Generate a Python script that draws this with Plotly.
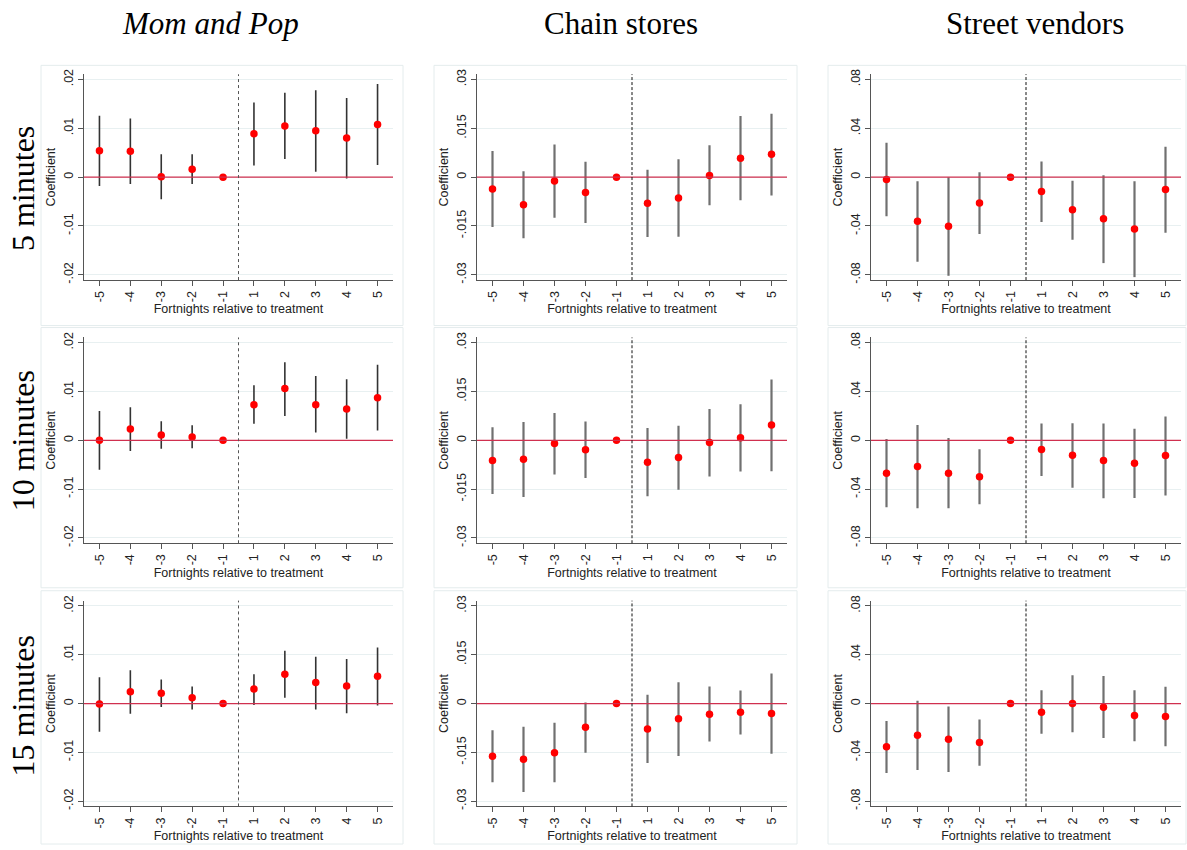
import plotly.graph_objects as go

# ---------------- data ----------------
periods = ["-5", "-4", "-3", "-2", "-1", "1", "2", "3", "4", "5"]
col_titles = ["Mom and Pop", "Chain stores", "Street vendors"]
row_titles = ["5 minutes", "10 minutes", "15 minutes"]
x_title = "Fortnights relative to treatment"
y_title = "Coefficient"

mp_ticks = [-0.02, -0.01, 0, 0.01, 0.02]
mp_ticktext = ["-.02", "-.01", "0", ".01", ".02"]
ch_ticks = [-0.03, -0.015, 0, 0.015, 0.03]
ch_ticktext = ["-.03", "-.015", "0", ".015", ".03"]
sv_ticks = [-0.08, -0.04, 0, 0.04, 0.08]
sv_ticktext = ["-.08", "-.04", "0", ".04", ".08"]

# 5 minutes
mp5_est = [0.0054, 0.0053, 0.0001, 0.0016, 0.0, 0.0089, 0.0105, 0.0095, 0.0080, 0.0108]
mp5_lo = [-0.0018, -0.0014, -0.0045, -0.0014, 0.0, 0.0024, 0.0037, 0.0011, -0.0003, 0.0025]
mp5_hi = [0.0126, 0.0120, 0.0047, 0.0047, 0.0, 0.0153, 0.0173, 0.0178, 0.0162, 0.0191]

ch5_est = [-0.0036, -0.0085, -0.0012, -0.0047, 0.0, -0.0080, -0.0064, 0.0005, 0.0058, 0.0070]
ch5_lo = [-0.0153, -0.0188, -0.0125, -0.0141, 0.0, -0.0184, -0.0183, -0.0086, -0.0071, -0.0056]
ch5_hi = [0.0080, 0.0018, 0.0100, 0.0047, 0.0, 0.0023, 0.0055, 0.0098, 0.0188, 0.0195]

sv5_est = [-0.0019, -0.0362, -0.0403, -0.0211, 0.0, -0.0118, -0.0268, -0.0340, -0.0425, -0.0101]
sv5_lo = [-0.0321, -0.0693, -0.0808, -0.0466, 0.0, -0.0367, -0.0512, -0.0704, -0.0819, -0.0455]
sv5_hi = [0.0282, -0.0033, 0.0000, 0.0041, 0.0, 0.0129, -0.0030, 0.0016, -0.0033, 0.0249]

# 10 minutes
mp10_est = [0.0000, 0.0023, 0.0011, 0.0007, 0.0, 0.0073, 0.0106, 0.0073, 0.0064, 0.0087]
mp10_lo = [-0.0060, -0.0022, -0.0017, -0.0016, 0.0, 0.0034, 0.0050, 0.0016, 0.0003, 0.0020]
mp10_hi = [0.0060, 0.0068, 0.0039, 0.0031, 0.0, 0.0113, 0.0160, 0.0132, 0.0125, 0.0155]

ch10_est = [-0.0062, -0.0058, -0.0010, -0.0029, 0.0, -0.0067, -0.0053, -0.0007, 0.0008, 0.0047]
ch10_lo = [-0.0165, -0.0174, -0.0105, -0.0116, 0.0, -0.0172, -0.0152, -0.0111, -0.0096, -0.0095]
ch10_hi = [0.0040, 0.0056, 0.0084, 0.0058, 0.0, 0.0038, 0.0045, 0.0096, 0.0111, 0.0187]

sv10_est = [-0.0269, -0.0215, -0.0269, -0.0299, 0.0, -0.0076, -0.0122, -0.0166, -0.0187, -0.0125]
sv10_lo = [-0.0549, -0.0557, -0.0557, -0.0524, 0.0, -0.0293, -0.0388, -0.0475, -0.0473, -0.0451]
sv10_hi = [0.0011, 0.0125, 0.0019, -0.0073, 0.0, 0.0138, 0.0141, 0.0138, 0.0095, 0.0196]

# 15 minutes
mp15_est = [-0.0001, 0.0024, 0.0021, 0.0012, 0.0, 0.0030, 0.0060, 0.0043, 0.0036, 0.0056]
mp15_lo = [-0.0058, -0.0021, -0.0007, -0.0012, 0.0, -0.0003, 0.0012, -0.0012, -0.0020, -0.0004]
mp15_hi = [0.0054, 0.0068, 0.0049, 0.0035, 0.0, 0.0060, 0.0108, 0.0096, 0.0091, 0.0115]

ch15_est = [-0.0162, -0.0171, -0.0151, -0.0073, 0.0, -0.0078, -0.0047, -0.0033, -0.0027, -0.0031]
ch15_lo = [-0.0242, -0.0272, -0.0242, -0.0151, 0.0, -0.0183, -0.0161, -0.0117, -0.0095, -0.0154]
ch15_hi = [-0.0082, -0.0071, -0.0059, 0.0003, 0.0, 0.0027, 0.0065, 0.0052, 0.0040, 0.0092]

sv15_est = [-0.0355, -0.0260, -0.0293, -0.0320, 0.0, -0.0071, 0.0000, -0.0030, -0.0098, -0.0106]
sv15_lo = [-0.0569, -0.0545, -0.0561, -0.0510, 0.0, -0.0247, -0.0236, -0.0282, -0.0309, -0.0350]
sv15_hi = [-0.0144, 0.0022, -0.0024, -0.0130, 0.0, 0.0108, 0.0231, 0.0225, 0.0108, 0.0138]

panels = [
    [(mp5_est, mp5_lo, mp5_hi), (ch5_est, ch5_lo, ch5_hi), (sv5_est, sv5_lo, sv5_hi)],
    [(mp10_est, mp10_lo, mp10_hi), (ch10_est, ch10_lo, ch10_hi), (sv10_est, sv10_lo, sv10_hi)],
    [(mp15_est, mp15_lo, mp15_hi), (ch15_est, ch15_lo, ch15_hi), (sv15_est, sv15_lo, sv15_hi)],
]
col_ticks = [(mp_ticks, mp_ticktext), (ch_ticks, ch_ticktext), (sv_ticks, sv_ticktext)]

# ---------------- layout geometry ----------------
W, H = 1187, 850
col_px = [(84, 393), (477, 787), (871, 1181)]
row_px = [(70, 278), (336, 544), (602, 810)]
box_col_px = [(41, 403), (434, 797), (828, 1186)]
box_row_px = [(61, 324), (326, 589), (592, 848)]
range_pad = 104.0 / 98.7
ci_style = [("#333333", 1.6), ("#707070", 2.2), ("#707070", 2.2)]
vline_style = [("#555555", "dot"), ("#111111", "3px,2px"), ("#111111", "3px,2px")]

sans = "Liberation Sans, Arial, sans-serif"
serif = "Liberation Serif, Times New Roman, serif"
fs = 12.5

fig = go.Figure()
layout = dict(
    width=W, height=H,
    margin=dict(l=0, r=0, t=0, b=0),
    paper_bgcolor="white", plot_bgcolor="white",
    showlegend=False,
    font=dict(family=sans, size=fs, color="#222"),
)
shapes = []
annotations = []

for r in range(3):
    for c in range(3):
        k = r * 3 + c + 1
        xa = "x" if k == 1 else f"x{k}"
        ya = "y" if k == 1 else f"y{k}"
        xkey = "xaxis" if k == 1 else f"xaxis{k}"
        ykey = "yaxis" if k == 1 else f"yaxis{k}"
        est, lo, hi = panels[r][c]
        up = [h - e for h, e in zip(hi, est)]
        dn = [e - l for e, l in zip(est, lo)]
        col, th = ci_style[c]
        fig.add_trace(go.Scatter(
            x=periods, y=est, mode="markers", xaxis=xa, yaxis=ya,
            marker=dict(color="#ff0000", size=7.5),
            error_y=dict(type="data", symmetric=False, array=up, arrayminus=dn,
                         width=0, thickness=th, color=col),
            hoverinfo="x+y",
        ))
        x0, x1 = col_px[c]
        y0, y1 = row_px[r]
        tv, tt = col_ticks[c]
        lim = max(tv) * range_pad
        layout[xkey] = dict(
            domain=[x0 / W, x1 / W], anchor=ya, type="category",
            categoryorder="array", categoryarray=periods,
            range=[-0.5, 9.5], showgrid=False, zeroline=False,
            showline=True, linecolor="#555", linewidth=1,
            ticks="outside", ticklen=5, tickcolor="#555", tickangle=-90,
            tickfont=dict(family=sans, size=fs, color="#222"),
            title=dict(text=x_title, font=dict(family=sans, size=fs, color="#222"), standoff=3),
        )
        layout[ykey] = dict(
            domain=[1 - y1 / H, 1 - y0 / H], anchor=xa,
            range=[-lim, lim], tickvals=tv, ticktext=tt,
            showgrid=True, gridcolor="#e8f0f1", gridwidth=1,
            zeroline=False,
            showline=True, linecolor="#555", linewidth=1,
            ticks="outside", ticklen=5, tickcolor="#555", tickangle=-90,
            tickfont=dict(family=sans, size=fs, color="#222"),
            title=dict(text=y_title, font=dict(family=sans, size=fs, color="#222"), standoff=3),
        )
        # reference line at zero
        shapes.append(dict(type="line", xref=xa, yref=ya,
                           x0=-0.5, x1=9.5, y0=0, y1=0,
                           line=dict(color="#d0304f", width=1.2), layer="above"))
        # vertical treatment line
        vc, vd = vline_style[c]
        shapes.append(dict(type="line", xref=xa, yref=f"{ya} domain",
                           x0=4.5, x1=4.5, y0=0, y1=1,
                           line=dict(color=vc, width=1, dash=vd), layer="above"))
        # panel outline
        bx0, bx1 = box_col_px[c]
        by0, by1 = box_row_px[r]
        shapes.append(dict(type="rect", xref="paper", yref="paper",
                           x0=bx0 / W, x1=bx1 / W, y0=1 - by1 / H, y1=1 - by0 / H,
                           line=dict(color="#e4eced", width=1), fillcolor="rgba(0,0,0,0)",
                           layer="below"))

title_x_px = [210, 621, 1035]
for c in range(3):
    txt = f"<i>{col_titles[c]}</i>" if c == 0 else col_titles[c]
    annotations.append(dict(text=txt, xref="paper", yref="paper",
                            x=title_x_px[c] / W, y=1.0, xanchor="center", yanchor="top",
                            borderpad=0, showarrow=False,
                            font=dict(family=serif, size=31, color="#000")))

row_y_px = [186, 441, 709]
for r in range(3):
    annotations.append(dict(text=row_titles[r], xref="paper", yref="paper",
                            x=23 / W, y=1 - row_y_px[r] / H, xanchor="center", yanchor="middle",
                            textangle=-90, showarrow=False,
                            font=dict(family=serif, size=32, color="#000")))

layout["shapes"] = shapes
layout["annotations"] = annotations
fig.update_layout(**layout)
fig.write_html("out.html", config={"displayModeBar": False},
               post_script="document.body.style.margin='0px';")
